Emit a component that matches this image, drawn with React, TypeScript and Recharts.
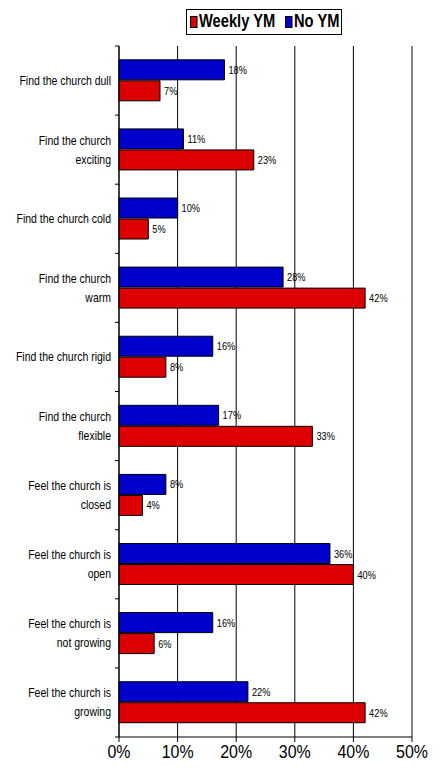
import React from "react";
import {
  BarChart,
  Bar,
  XAxis,
  YAxis,
  CartesianGrid,
  LabelList,
  ReferenceLine,
} from "recharts";

const categories = [
  "Find the church dull",
  "Find the church\nexciting",
  "Find the church cold",
  "Find the church\nwarm",
  "Find the church rigid",
  "Find the church\nflexible",
  "Feel the church is\nclosed",
  "Feel the church is\nopen",
  "Feel the church is\nnot growing",
  "Feel the church is\ngrowing",
];
const noYM = [18, 11, 10, 28, 16, 17, 8, 36, 16, 22];
const weeklyYM = [7, 23, 5, 42, 8, 33, 4, 40, 6, 42];
const xTicks = [0, 10, 20, 30, 40, 50];

const seriesNames = { weekly: "Weekly YM", noYM: "No YM" };
const seriesColors = { weekly: "#DD0000", noYM: "#0000CC" };

const data = categories.map((c, i) => ({
  label: c,
  noYM: noYM[i],
  weekly: weeklyYM[i],
}));

const FONT = "'Liberation Sans', Arial, sans-serif";
const SX = 0.84; // horizontal condensing to mimic a narrow face
const W = 445;
const H = 768;
const MARGIN = { top: 46, right: 33, left: 0, bottom: 0 };
const X_AXIS_H = 31;
const Y_AXIS_W = 119;
const PLOT_H = H - MARGIN.top - MARGIN.bottom - X_AXIS_H;
const BAND = PLOT_H / categories.length;

const NText = (props: any) => {
  const { x, y, anchor = "start", size, weight = "normal", baseline, children, fill = "#000" } = props;
  return (
    <text
      transform={`translate(${x},${y}) scale(${SX},1)`}
      x={0}
      y={0}
      textAnchor={anchor}
      fontFamily={FONT}
      fontSize={size}
      fontWeight={weight}
      fill={fill}
      dominantBaseline={baseline}
    >
      {children}
    </text>
  );
};

const YTick = (props: any) => {
  const { x, y, payload, index } = props;
  const lines: string[] = String(payload.value).split("\n");
  const axisX = x + 8;
  const lineH = 19;
  const startY = y - ((lines.length - 1) * lineH) / 2;
  return (
    <g>
      <line x1={axisX - 4} x2={axisX} y1={y - BAND / 2} y2={y - BAND / 2} stroke="#000" />
      {index === categories.length - 1 && (
        <line x1={axisX - 4} x2={axisX} y1={y + BAND / 2} y2={y + BAND / 2} stroke="#000" />
      )}
      {lines.map((l, i) => (
        <NText key={i} x={x} y={startY + i * lineH + 4.5} anchor="end" size={12.5}>
          {l}
        </NText>
      ))}
    </g>
  );
};

const XTick = (props: any) => {
  const { x, y, payload } = props;
  return (
    <NText x={x} y={y + 13.5} anchor="middle" size={19}>
      {`${payload.value}%`}
    </NText>
  );
};

const ValueLabel = (props: any) => {
  const { x, y, width, height, value } = props;
  return (
    <NText x={x + width + 4} y={y + height / 2 + 4} size={11}>
      {`${value}%`}
    </NText>
  );
};

const LegendBox = () => {
  const items = [
    { key: "weekly", name: seriesNames.weekly, color: seriesColors.weekly, x: 190 },
    { key: "noYM", name: seriesNames.noYM, color: seriesColors.noYM, x: 285 },
  ];
  return (
    <svg
      width={W}
      height={45}
      style={{ position: "absolute", left: 0, top: 0, pointerEvents: "none" }}
    >
      <rect x={186.5} y={9.5} width={155} height={25} fill="#fff" stroke="#000" strokeWidth={1} />
      {items.map((it) => (
        <g key={it.key}>
          <rect x={it.x + 0.5} y={16.5} width={6.5} height={11} fill={it.color} stroke="#000" strokeWidth={1} />
          <NText x={it.x + 9} y={27} size={17.5} weight="bold">
            {it.name}
          </NText>
        </g>
      ))}
    </svg>
  );
};

export default function App() {
  return (
    <div style={{ position: "absolute", left: 0, top: 0, width: W, height: H, background: "#fff" }}>
      <BarChart
        width={W}
        height={H}
        data={data}
        layout="vertical"
        margin={MARGIN}
        barCategoryGap="20%"
        barGap={1}
      >
        <CartesianGrid horizontal={false} vertical={true} stroke="#000" />
        <XAxis
          type="number"
          domain={[0, 50]}
          ticks={xTicks}
          interval={0}
          height={X_AXIS_H}
          tickSize={5}
          tickMargin={2}
          axisLine={{ stroke: "#000" }}
          tickLine={{ stroke: "#000" }}
          tick={<XTick />}
        />
        <XAxis
          xAxisId="top"
          orientation="top"
          type="number"
          domain={[0, 50]}
          height={0}
          tick={false}
          tickLine={false}
          axisLine={{ stroke: "#888" }}
        />
        <YAxis
          type="category"
          dataKey="label"
          width={Y_AXIS_W}
          interval={0}
          tickSize={0}
          tickMargin={8}
          tickLine={false}
          axisLine={{ stroke: "#000" }}
          tick={<YTick />}
        />
        <ReferenceLine x={50} stroke="#888" />
        <Bar dataKey="noYM" fill={seriesColors.noYM} stroke="#000" strokeWidth={1} isAnimationActive={false}>
          <LabelList dataKey="noYM" content={<ValueLabel />} />
        </Bar>
        <Bar dataKey="weekly" fill={seriesColors.weekly} stroke="#000" strokeWidth={1} isAnimationActive={false}>
          <LabelList dataKey="weekly" content={<ValueLabel />} />
        </Bar>
      </BarChart>
      <LegendBox />
    </div>
  );
}
